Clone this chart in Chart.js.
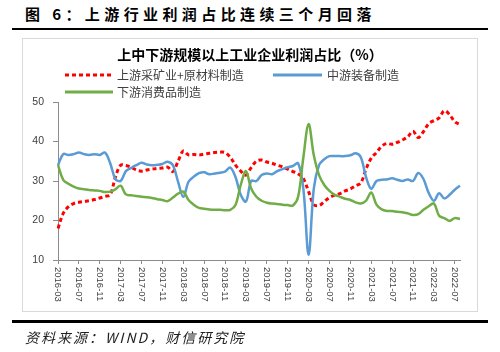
<!DOCTYPE html>
<html>
<head>
<meta charset="utf-8">
<script src="https://cdn.jsdelivr.net/npm/chart.js@4"></script>
<style>
    body { margin: 0; width: 500px; height: 352px; position: relative; background: #fff; overflow: hidden; font-family: "Noto Sans CJK SC", sans-serif; }
    #fig-title { position: absolute; left: 25px; top: 3px; font-size: 15px; font-weight: bold; letter-spacing: 4.4px; color: #000; white-space: nowrap; line-height: 22px; }
    .rule { position: absolute; left: 12px; width: 476px; height: 2.5px; background: #000; }
    #box { position: absolute; left: 22px; top: 38px; width: 454px; height: 272px; border: 1px solid #d9d9d9; }
    #chart { position: absolute; left: 0; top: 0; }
    #chart-title { position: absolute; left: 0; width: 500px; top: 44px; text-align: center; font-size: 14px; font-weight: bold; color: #000; line-height: 20px; }
    .legend { position: absolute; font-size: 12px; color: #404040; line-height: 16px; white-space: nowrap; }
    .legend svg { position: absolute; top: 0; }
    #source { position: absolute; left: 25px; top: 327px; font-size: 14px; font-style: italic; letter-spacing: 2px; color: #222; line-height: 20px; white-space: nowrap; }
</style>
</head>
<body>
<div id="fig-title">图 6：上游行业利润占比连续三个月回落</div>
<div class="rule" style="top:27.5px"></div>
<div id="box"></div>
<canvas id="chart" width="500" height="352"></canvas>
<div id="chart-title">上中下游规模以上工业企业利润占比（%）</div>
<div class="legend" style="left:65px;top:67px;padding-left:52px">
    <svg width="48" height="16" style="left:0"><line x1="0" y1="8" x2="46" y2="8" stroke="#ff0000" stroke-width="3" stroke-dasharray="4,3"/></svg>上游采矿业+原材料制造
</div>
<div class="legend" style="left:273px;top:67px;padding-left:54px">
    <svg width="50" height="16" style="left:0"><line x1="0" y1="8" x2="49" y2="8" stroke="#5b9bd5" stroke-width="3"/></svg>中游装备制造
</div>
<div class="legend" style="left:65px;top:84px;padding-left:52px">
    <svg width="50" height="16" style="left:0"><line x1="0" y1="8" x2="48" y2="8" stroke="#70ad47" stroke-width="3"/></svg>下游消费品制造
</div>
<div class="rule" style="top:320px"></div>
<div id="source">资料来源：WIND，财信研究院</div>

<script>
// month labels 2016-03 .. 2022-08
const months = [];
for (let y = 2016, m = 3; months.length < 78; m++) {
    if (m > 12) { m = 1; y++; }
    months.push(y + '-' + String(m).padStart(2, '0'));
}

const yTicks = [10, 20, 30, 40, 50];

// 上游采矿业+原材料制造
const upstream = [
    18.0, 21.8, 23.5, 24.3, 24.6, 24.8, 25.0, 25.3, 25.7, 26.1,
    26.5, 31.0, 34.0, 33.9, 33.5, 32.8, 32.5, 32.8, 33.0, 33.2,
    33.3, 33.5, 32.4, 35.0, 37.6, 36.6, 36.7, 36.6, 36.8, 37.0,
    37.2, 37.3, 37.2, 36.0, 34.0, 32.5, 31.5, 33.4, 35.0, 35.3,
    34.8, 34.5, 34.0, 33.6, 33.0, 32.4, 31.8, 30.6, 27.3, 24.0,
    23.8, 24.8, 25.8, 26.4, 26.8, 27.5, 28.0, 28.8, 29.5, 33.0,
    35.8, 37.2, 38.8, 39.5, 39.3, 39.8, 40.4, 41.2, 42.6, 41.0,
    42.5, 44.5, 45.3, 46.0, 47.8, 46.8, 45.0, 44.3
];
// 中游装备制造
const midstream = [
    34.0, 36.8, 36.6, 36.8, 37.2, 36.8, 36.6, 36.8, 36.6, 37.2,
    34.5, 30.5, 30.0, 32.5, 33.3, 34.0, 34.6, 34.2, 34.0, 34.1,
    34.3, 34.9, 34.0, 29.8, 26.0, 29.8, 31.1, 32.0, 32.2, 31.7,
    31.9, 32.1, 32.4, 33.4, 31.0, 26.5, 24.8, 30.0, 30.0, 31.5,
    31.9, 31.7, 32.5, 33.0, 33.5, 33.8, 34.5, 28.0, 11.3, 28.1,
    34.0, 35.5, 36.3, 36.3, 36.3, 36.3, 36.5, 37.0, 36.0, 31.0,
    28.0, 30.0, 30.3, 30.4, 30.7, 30.3, 30.0, 30.4, 30.0, 32.0,
    30.5, 27.0, 25.0, 26.9, 25.6, 26.5, 27.8, 28.8
];
// 下游消费品制造
const downstream = [
    34.0, 30.3, 29.3, 28.6, 28.1, 27.9, 27.7, 27.6, 27.5, 27.2,
    27.3, 27.9, 28.8, 26.6, 26.4, 26.2, 26.0, 25.9, 25.7, 25.4,
    25.2, 24.9, 25.8, 26.8, 27.3, 25.2, 24.0, 23.2, 23.0, 22.8,
    22.7, 22.7, 22.6, 22.7, 23.9, 29.0, 32.5, 28.1, 26.0, 25.0,
    24.5, 24.3, 24.2, 24.0, 23.9, 23.8, 26.0, 36.0, 44.4, 36.5,
    31.5, 29.0, 27.5, 26.5, 26.0, 25.5, 25.2, 24.6, 24.3, 25.0,
    27.1, 24.0, 22.8, 22.4, 22.4, 22.2, 22.1, 21.8, 21.4, 21.6,
    22.7, 23.6, 24.3, 21.2, 20.6, 19.9, 20.6, 20.4
];

const axisColor = '#8c8c8c';
const labelColor = '#404040';

// x labels read top-to-bottom, so draw them ourselves
const xLabelPlugin = {
    id: 'xLabels',
    afterDraw(chart) {
        const ctx = chart.ctx;
        const xs = chart.scales.x;
        ctx.save();
        ctx.font = '9.5px "Liberation Sans"';
        ctx.fillStyle = labelColor;
        ctx.textAlign = 'left';
        ctx.textBaseline = 'middle';
        months.forEach((m, i) => {
            if (i % 4 !== 0) {
                return;
            }
            ctx.save();
            ctx.translate(xs.getPixelForValue(i), xs.top + 7);
            ctx.rotate(Math.PI / 2);
            ctx.fillText(m, 0, 0);
            ctx.restore();
        });
        ctx.restore();
    }
};

new Chart(document.getElementById('chart'), {
    type: 'line',
    data: {
        labels: months,
        datasets: [
            {
                label: '上游采矿业+原材料制造',
                data: upstream,
                borderColor: '#ff0000',
                borderWidth: 3,
                borderDash: [4, 3],
                order: 3,
            },
            {
                label: '中游装备制造',
                data: midstream,
                borderColor: '#5b9bd5',
                borderWidth: 2.5,
                order: 2,
            },
            {
                label: '下游消费品制造',
                data: downstream,
                borderColor: '#70ad47',
                borderWidth: 2.5,
                order: 1,
            }
        ]
    },
    options: {
        responsive: false,
        animation: false,
        layout: {padding: {top: 102, right: 40, bottom: 52, left: 0}},
        elements: {
            point: {radius: 0},
            line: {tension: 0.35, fill: false}
        },
        plugins: {
            legend: {display: false},
            tooltip: {enabled: false}
        },
        scales: {
            x: {
                type: 'category',
                offset: false,
                border: {color: axisColor, width: 1},
                grid: {
                    drawOnChartArea: false,
                    tickLength: 4,
                    color: (c) => (c.index % 4 === 0 ? axisColor : 'transparent')
                },
                ticks: {display: false},
                afterFit: (scale) => { scale.height = 40; }
            },
            y: {
                min: 10,
                max: 50,
                border: {color: axisColor, width: 1},
                grid: {drawOnChartArea: false, tickLength: 5, color: axisColor},
                afterBuildTicks: (scale) => { scale.ticks = yTicks.map(v => ({value: v})); },
                ticks: {
                    padding: 9,
                    color: labelColor,
                    font: {family: 'Liberation Sans', size: 10.5}
                },
                afterFit: (scale) => { scale.width = 58; }
            }
        }
    },
    plugins: [xLabelPlugin]
});
</script>
</body>
</html>
